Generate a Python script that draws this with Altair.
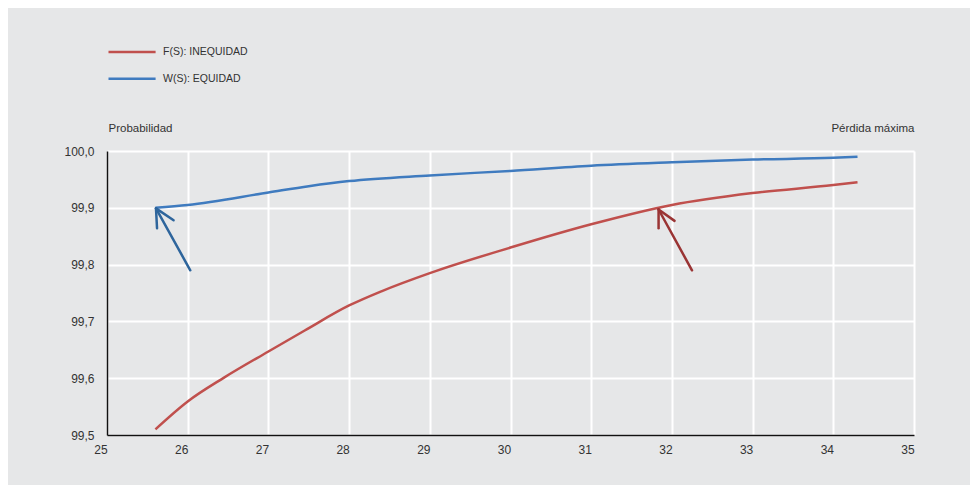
import altair as alt
import pandas as pd

# --- data ---
red_name = "F(S): INEQUIDAD"
blue_name = "W(S): EQUIDAD"
red_x = [25.6, 26.0, 26.45, 27.0, 27.45, 28.0, 28.4, 29.0, 30.0, 31.0, 32.0, 33.0, 34.0, 34.3]
red_y = [99.510, 99.559, 99.601, 99.647, 99.684, 99.728, 99.753, 99.785, 99.830, 99.871, 99.905, 99.926, 99.940, 99.945]
blue_x = [25.6, 26.0, 27.0, 27.5, 28.0, 29.0, 30.0, 31.0, 32.0, 33.0, 34.0, 34.3]
blue_y = [99.900, 99.905, 99.927, 99.938, 99.947, 99.957, 99.965, 99.974, 99.980, 99.985, 99.988, 99.990]

# arrows: tip, tail, two head ends (data coordinates)
arrow_series = ["blue", "red"]
arrow_tip_x = [25.607, 31.835]
arrow_tip_y = [99.899, 99.897]
arrow_tail_x = [26.032, 32.249]
arrow_tail_y = [99.790, 99.790]
arrow_head1_x = [25.620, 31.835]
arrow_head1_y = [99.864, 99.864]
arrow_head2_x = [25.825, 32.033]
arrow_head2_y = [99.878, 99.877]

x_ticks = list(range(25, 36))
y_ticks = [99.5, 99.6, 99.7, 99.8, 99.9, 100.0]

RED = "#c0504d"
BLUE = "#3f7bbf"
ARROW_COLORS = {"blue": "#2e659c", "red": "#9a3434"}
BG = "#e6e7e8"
FONT = "Liberation Sans"

lines = pd.DataFrame(
    {"x": red_x + blue_x,
     "y": red_y + blue_y,
     "serie": [red_name] * len(red_x) + [blue_name] * len(blue_x),
     "order": list(range(len(red_x))) + list(range(len(blue_x)))}
)

segs = []
for i, s in enumerate(arrow_series):
    for (ex, ey) in [(arrow_tail_x[i], arrow_tail_y[i]),
                     (arrow_head1_x[i], arrow_head1_y[i]),
                     (arrow_head2_x[i], arrow_head2_y[i])]:
        segs.append({"x": arrow_tip_x[i], "y": arrow_tip_y[i], "x2": ex, "y2": ey,
                     "col": ARROW_COLORS[s]})
arrows = pd.DataFrame(segs)

xscale = alt.Scale(domain=[25, 35], nice=False, zero=False)
yscale = alt.Scale(domain=[99.5, 100.0], nice=False, zero=False)

x_axis = alt.Axis(
    values=x_ticks, format="d", grid=True, gridColor="white", gridWidth=2,
    domainColor="#111111", domainWidth=1.5, ticks=False,
    labelFont=FONT, labelFontSize=12, labelColor="#333333", labelPadding=9,
    labelOffset=-6.5, labelFlush=False,
    title="Pérdida máxima", titleFont=FONT, titleFontSize=11.5, titleFontWeight="normal",
    titleColor="#333333", titleAnchor="end", titleAlign="right",
    titleX=807, titleY=-304, titleBaseline="alphabetic", titleAngle=0,
)
y_axis = alt.Axis(
    values=y_ticks, grid=True, gridColor="white", gridWidth=2,
    domainColor="#111111", domainWidth=1.5, ticks=False,
    labelExpr="replace(format(datum.value, '.1f'), '.', ',')",
    labelFont=FONT, labelFontSize=12, labelColor="#333333", labelPadding=13,
    labelFlush=False,
    title="Probabilidad", titleFont=FONT, titleFontSize=11.5, titleFontWeight="normal",
    titleColor="#333333", titleAngle=0, titleAlign="left", titleAnchor="start",
    titleX=1, titleY=-20, titleBaseline="alphabetic",
)

line_chart = alt.Chart(lines).mark_line(strokeWidth=2.5, interpolate="monotone").encode(
    x=alt.X("x:Q", scale=xscale, axis=x_axis),
    y=alt.Y("y:Q", scale=yscale, axis=y_axis),
    color=alt.Color(
        "serie:N",
        scale=alt.Scale(domain=[red_name, blue_name], range=[RED, BLUE]),
        legend=alt.Legend(
            title=None, orient="none", legendX=0, legendY=-106.5,
            symbolType="M-1,0H6.85", symbolSize=144, symbolStrokeWidth=2.5,
            labelOffset=41, rowPadding=13.7, padding=0,
            labelFont=FONT, labelFontSize=10.5, labelColor="#333333",
        ),
    ),
    order="order:Q",
)

arrow_chart = alt.Chart(arrows).mark_rule(strokeWidth=2.5, strokeCap="round").encode(
    x=alt.X("x:Q", scale=xscale),
    y=alt.Y("y:Q", scale=yscale),
    x2="x2:Q",
    y2="y2:Q",
    color=alt.Color("col:N", scale=None, legend=None),
)

chart = alt.layer(line_chart, arrow_chart).properties(
    width=807, height=284,
    padding={"left": 99, "top": 143, "right": 56, "bottom": 50},
    autosize=alt.AutoSizeParams(type="none"),
    background=BG,
).configure_view(stroke=None, fill=BG).resolve_scale(color="independent")

chart.save("out.html", embed_options={"renderer": "svg", "actions": False})
